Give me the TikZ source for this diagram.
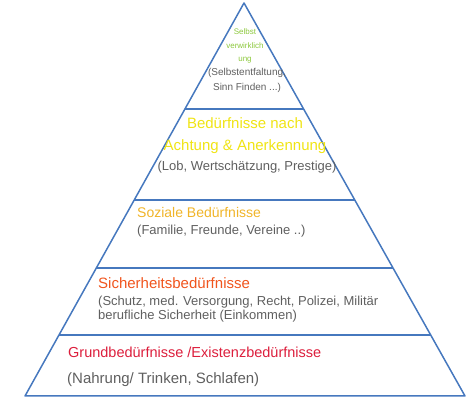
\documentclass[tikz,border=0pt]{standalone}
\usepackage{fontspec}
\setmainfont{Liberation Sans}
\usetikzlibrary{calc}

\definecolor{pyrblue}{RGB}{70,120,190}
\definecolor{selfgreen}{RGB}{140,200,60}
\definecolor{esteemyellow}{RGB}{240,228,20}
\definecolor{socialorange}{RGB}{240,180,40}
\definecolor{safetyred}{RGB}{240,85,30}
\definecolor{basicred}{RGB}{220,30,60}
\definecolor{notegray}{RGB}{95,95,95}

\begin{document}
\begin{tikzpicture}[
    x=1pt, y=-1pt,
    edge/.style={draw=pyrblue, line width=1.5pt, line join=round},
    head/.style={anchor=west, inner sep=0pt, align=left, font=\fontsize{13}{16}\selectfont},
    note/.style={anchor=west, inner sep=0pt, align=left, text=notegray, font=\fontsize{13}{14}\selectfont}
  ]
    \useasboundingbox (0,0) rectangle (474,411);
    \coordinate (top) at (244,3);
    \coordinate (bl) at (25,396);
    \coordinate (br) at (465,396);

    \draw[edge] (top) -- (bl) -- (br) -- cycle;
    \foreach \t in {0.27,0.501,0.674,0.845}
      \draw[edge] ($(top)!\t!(bl)$) -- ($(top)!\t!(br)$);

    % top tier
    \node[align=center, inner sep=0pt, text=selfgreen, font=\fontsize{8}{13.5}\selectfont] (selfhead) at (245,46) {Selbst\\verwirklich\\ung};
    \node[align=center, inner sep=0pt, text=notegray, font=\fontsize{10}{15}\selectfont] (selfnote) at (247,80) {(Selbstentfaltung,\\Sinn Finden ...)};

    % esteem
    \node[head, anchor=center, align=center, text=esteemyellow, font=\fontsize{15}{22}\selectfont] (esteemhead) at (245,136) {Bedürfnisse nach\\Achtung \& Anerkennung};
    \node[note, anchor=center] (esteemnote) at (247,167) {(Lob, Wertschätzung, Prestige)};

    % social
    \node[head, text=socialorange, font=\fontsize{14}{16}\selectfont] (socialhead) at (137,212) {Soziale Bedürfnisse};
    \node[note] (socialnote) at (137,231) {(Familie, Freunde, Vereine ..)};

    % safety
    \node[head, text=safetyred, font=\fontsize{15}{16}\selectfont] (safetyhead) at (98,283) {Sicherheitsbedürfnisse};
    \node[note] (safetynote) at (98,309) {(Schutz, med. Versorgung, Recht, Polizei, Militär\\berufliche Sicherheit (Einkommen)};

    % basic needs
    \node[head, text=basicred, font=\fontsize{14.5}{16}\selectfont] (basichead) at (68,352) {Grundbedürfnisse /Existenzbedürfnisse};
    \node[note, font=\fontsize{15}{16}\selectfont] (basicnote) at (67,380) {(Nahrung/ Trinken, Schlafen)};
  \end{tikzpicture}
\end{document}
